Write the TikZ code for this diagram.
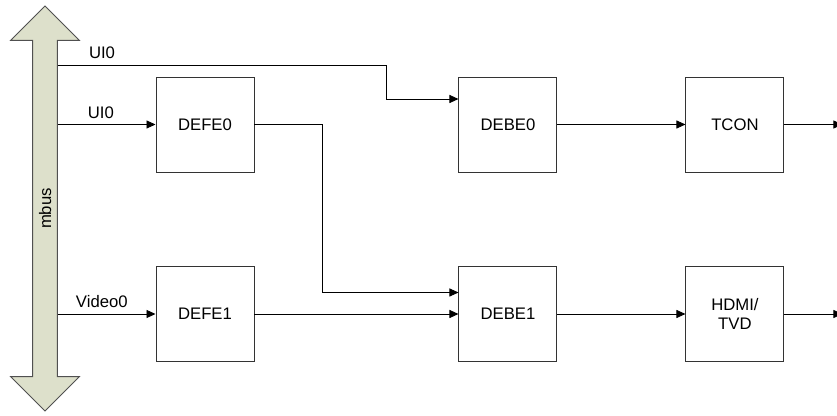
\documentclass[tikz,border=0pt]{standalone}
\usepackage{fontspec}
\setmainfont{Liberation Sans}
\usetikzlibrary{positioning, shapes.arrows, arrows.meta}
\usepackage{xcolor}
\definecolor{busfill}{HTML}{DDE0CB}
\definecolor{busline}{HTML}{505050}

\begin{document}
\begin{tikzpicture}[
    block/.style={draw=black!80, line width=0.55pt, minimum width=1.96cm, minimum height=1.9cm, align=center, font=\fontsize{9.5}{11}\selectfont},
    link/.style={line width=0.5pt, -{Triangle[length=1.8mm, width=1.6mm]}},
    lbl/.style={above, inner sep=3.3pt, font=\fontsize{9.5}{11}\selectfont},
]
\useasboundingbox (0,0) rectangle (16.74,-8.32);

% ── Bus ──
\node[double arrow, draw=busline, fill=busfill, line width=0.55pt, rotate=90,
      minimum height=8.1cm, double arrow head extend=0.44cm,
      text height=7pt, text depth=0pt, inner ysep=3.3pt,
      font=\fontsize{9.5}{11}\selectfont] (mbus) at (0.9,-4.17) {mbus};

% ── Front ends ──
\node[block] (defe0) at (4.1,-2.49) {DEFE0};
\node[block] (defe1) at (4.1,-6.28) {DEFE1};

% ── Back ends and outputs ──
\node[block, right=4.08cm of defe0] (debe0) {DEBE0};
\node[block, right=4.08cm of defe1] (debe1) {DEBE1};
\node[block, right=2.56cm of debe0] (tcon) {TCON};
\node[block, right=2.56cm of debe1] (hdmi) {HDMI/\\TVD};

% ── Connections ──
\coordinate (ui0top) at (mbus.south |- 0,-1.3);
\draw[link] (ui0top) -- node[lbl, pos=0.134] {UI0} ++(6.58,0) |- ([yshift=0.51cm]debe0.west);
\draw[link] (mbus.south |- defe0) -- node[lbl, pos=0.44] {UI0} (defe0);
\draw[link] (mbus.south |- defe1) -- node[lbl, pos=0.45] {Video0} (defe1);
\draw[link] (defe0.east) -- ++(1.36,0) |- ([yshift=0.43cm]debe1.west);
\draw[link] (defe1) -- (debe1);
\draw[link] (debe0) -- (tcon);
\draw[link] (debe1) -- (hdmi);
\draw[link] (tcon.east) -- ++(1.16,0);
\draw[link] (hdmi.east) -- ++(1.16,0);

\end{tikzpicture}
\end{document}
